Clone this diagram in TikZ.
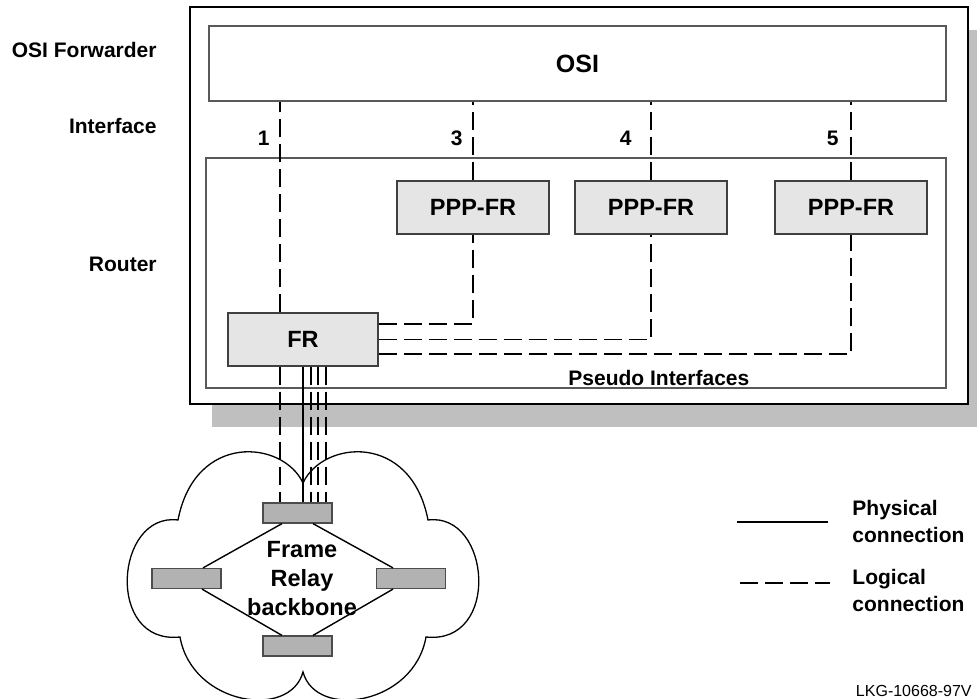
\documentclass[tikz,border=0pt]{standalone}
\usepackage{fontspec}
\setmainfont{Liberation Sans}

\begin{document}
\begin{tikzpicture}[
  x=0.5pt, y=-0.5pt,
  frame/.style={draw=black!65, line width=0.8pt, inner sep=0pt},
  box/.style={draw=black!75, fill=black!10, line width=0.7pt, minimum width=76pt,
    minimum height=26.5pt, font=\fontsize{11.75}{14}\selectfont\bfseries},
  gw/.style={draw=black!70, fill=black!30, line width=0.6pt, minimum width=34.5pt,
    minimum height=10pt, inner sep=0pt},
  lbl/.style={font=\fontsize{10.5}{13.5}\selectfont\bfseries, inner sep=0pt},
  logical/.style={line width=0.65pt, dash pattern=on 9pt off 3.5pt},
  physical/.style={line width=0.7pt},
]
\useasboundingbox (0,0) rectangle (977,699);
% Forwarder frame with its shadow
\fill[black!25] (212,30) rectangle (977,427);
\node[draw, fill=white, line width=0.6pt, minimum width=389pt, minimum height=198.5pt,
  inner sep=0pt] (fwd) at (579,205.5) {};
\node[frame, minimum width=368.5pt, minimum height=37.5pt,
  font=\fontsize{12.5}{15}\selectfont\bfseries] (osi) at (577.5,63.5) {OSI};
\node[frame, minimum width=370pt, minimum height=115pt] (router) at (576,273) {};

% Pseudo interfaces and FR
\node[box] (ppp3) at (473,207.5) {PPP-FR};
\node[box] (ppp4) at (651,207.5) {PPP-FR};
\node[box] (ppp5) at (851,207.5) {PPP-FR};
\node[box, minimum width=75pt] (fr) at (303,339.5) {FR};

% Labels
\node[lbl, anchor=base east] (lfwd) at (157,58) {OSI Forwarder};
\node[lbl, anchor=base east] (lif) at (157,134) {Interface};
\node[lbl, anchor=base east] (lrt) at (157,272) {Router};
\node[lbl, anchor=base west] (pseudo) at (568,385) {Pseudo Interfaces};
\node[lbl, anchor=base east] (n1) at (270,146) {1};
\node[lbl, anchor=base east] (n3) at (463,146) {3};
\node[lbl, anchor=base east] (n4) at (632,146) {4};
\node[lbl, anchor=base east] (n5) at (839,146) {5};

% Logical connections to OSI
\draw[logical] ([xshift=-11.5pt]fr.north) -- ([xshift=-11.5pt]fr.north |- osi.south);
\foreach \p in {ppp3,ppp4,ppp5}
  \draw[logical] (\p.north) -- (\p.north |- osi.south);
\draw[logical] ([yshift=7.75pt]fr.east) -| (ppp3.south);
\draw[logical] (fr.east) -| (ppp4.south);
\draw[logical] ([yshift=-7.25pt]fr.east) -| (ppp5.south);

% Frame Relay cloud
\draw[line width=0.65pt] (303,483) .. controls (283,440) and (195,432) .. (178,520)
  .. controls (115,512) and (105,645) .. (180,637)
  .. controls (192,705) and (290,720) .. (303,672)
  .. controls (316,720) and (414,705) .. (426,637)
  .. controls (501,645) and (491,512) .. (428,520)
  .. controls (411,432) and (323,440) .. cycle;
\node[gw] (gtop) at (297.5,513) {};
\node[gw] (gleft) at (186.5,578.5) {};
\node[gw] (gright) at (411,578.5) {};
\node[gw] (gbot) at (297.5,646) {};
\draw[physical] ([xshift=-7.75pt]gtop.south) -- ([xshift=8.25pt]gleft.north);
\draw[physical] ([xshift=7.75pt]gtop.south) -- ([xshift=-9pt]gright.north);
\draw[physical] ([xshift=7.75pt]gleft.south) -- ([xshift=-7.75pt]gbot.north);
\draw[physical] ([xshift=-9pt]gright.south) -- ([xshift=7.75pt]gbot.north);
\node[font=\fontsize{11.75}{14.5}\selectfont\bfseries, align=center, inner sep=0pt]
  (frnet) at (302,579) {Frame\\Relay\\backbone};

% FR down to the backbone
\draw[logical] ([xshift=-11.5pt]fr.south) -- ([xshift=-11.5pt]fr.south |- gtop.north);
\draw[physical] (fr.south) -- (fr.south |- gtop.north);
\foreach \dx in {4,7.5,11.5}
  \draw[logical] ([xshift=\dx pt]fr.south) -- ([xshift=\dx pt]fr.south |- gtop.north);

% Legend
\coordinate (phya) at (737,522);
\coordinate (phyb) at (828,522);
\coordinate (loga) at (740,583);
\coordinate (logb) at (830,583);
\draw[physical] (phya) -- (phyb);
\draw[logical] (loga) -- (logb);
\node[lbl, anchor=west, align=left] (phytxt) at (852,521) {Physical\\connection};
\node[lbl, anchor=west, align=left] (logtxt) at (852,590) {Logical\\connection};
\node[font=\fontsize{8}{10}\selectfont, anchor=base east, inner sep=0pt] (lkg)
  at (972,696) {LKG-10668-97V};
\end{tikzpicture}
\end{document}
